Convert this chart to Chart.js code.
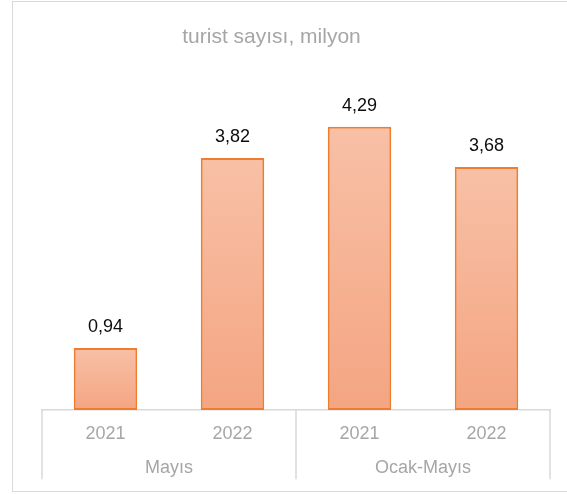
<!DOCTYPE html>
<html>
<head>
<meta charset="utf-8">
<script src="https://cdn.jsdelivr.net/npm/chart.js@4"></script>
<style>
  body { margin: 0; background: #fff; }
  #frame { position: absolute; left: 12px; top: 1px; width: 600px; height: 491px; border: 1px solid #d9d9d9; box-sizing: border-box; }
  #chart { position: absolute; left: 0; top: 0; }
</style>
</head>
<body>
<div id="frame"></div>
<canvas id="chart" width="567" height="495"></canvas>
<script>
// verileri
const years = ["2021", "2022", "2021", "2022"];
const groups = ["Mayıs", "Ocak-Mayıs"];
const tourists = [0.94, 3.82, 4.29, 3.68];
const titleText = "turist sayısı, milyon";

const FONT = "'Liberation Sans', Arial, sans-serif";

// Başlık (çerçeveye göre ortalanmış)
const titleDraw = {
    id: "titleDraw",
    afterDraw(chart) {
        const ctx = chart.ctx;
        ctx.save();
        ctx.font = "21px " + FONT;
        ctx.fillStyle = "#a6a6a6";
        ctx.textAlign = "center";
        ctx.textBaseline = "alphabetic";
        ctx.fillText(titleText, 271.5, 43);
        ctx.restore();
    }
};

// Sütunların üstüne değerleri yazar
const valueLabels = {
    id: "valueLabels",
    afterDatasetsDraw(chart) {
        const ctx = chart.ctx;
        ctx.save();
        ctx.font = "18px " + FONT;
        ctx.fillStyle = "#0d0d0d";
        ctx.textAlign = "center";
        ctx.textBaseline = "middle";
        chart.getDatasetMeta(0).data.forEach((bar, i) => {
            let txt = tourists[i].toFixed(2).replace(".", ",");
            ctx.fillText(txt, bar.x, bar.y - 21);
        });
        ctx.restore();
    }
};

// Gruplar arasındaki dikey çizgiler
const groupLines = {
    id: "groupLines",
    afterDraw(chart) {
        const x = chart.scales.x;
        const x2 = chart.scales.x2;
        const ctx = chart.ctx;
        let lines = [chart.chartArea.left,
            (x.getPixelForValue(1) + x.getPixelForValue(2)) / 2,
            chart.chartArea.right];
        ctx.save();
        ctx.strokeStyle = "#d9d9d9";
        ctx.lineWidth = 1.5;
        lines.forEach(px => {
            ctx.beginPath();
            ctx.moveTo(px, chart.chartArea.bottom);
            ctx.lineTo(px, x2.bottom);
            ctx.stroke();
        });
        ctx.restore();
    }
};

function barGradient(context) {
    const chart = context.chart;
    if (!chart.chartArea || context.raw === undefined) return "#f5ad8c";
    const y = chart.scales.y;
    const top = y.getPixelForValue(context.raw);
    const base = y.getPixelForValue(0);
    const g = chart.ctx.createLinearGradient(0, top, 0, base);
    g.addColorStop(0, "#f8c0a6");
    g.addColorStop(1, "#f4a582");
    return g;
}

new Chart(document.getElementById("chart"), {
    type: "bar",
    data: {
        labels: years,
        datasets: [{
            data: tourists,
            backgroundColor: barGradient,
            borderColor: "#ed7d31",
            borderWidth: 2,
            borderSkipped: false,
            barPercentage: 0.5,
            categoryPercentage: 1
        }]
    },
    options: {
        responsive: false,
        animation: false,
        layout: { padding: { left: 42, right: 17, top: 80, bottom: 15.8 } },
        plugins: {
            legend: { display: false },
            tooltip: { enabled: false },
            title: { display: false }
        },
        scales: {
            y: { display: false, min: 0, max: 5 },
            x: {
                grid: { display: false, drawTicks: false },
                border: { display: true, color: "#d9d9d9", width: 1.5 },
                ticks: { color: "#a6a6a6", padding: 13, font: { family: FONT, size: 18 } }
            },
            x2: {
                type: "category",
                position: "bottom",
                labels: groups,
                offset: true,
                grid: { display: false, drawTicks: false },
                border: { display: false },
                ticks: { color: "#a6a6a6", padding: 0, font: { family: FONT, size: 18 } }
            }
        }
    },
    plugins: [valueLabels, groupLines, titleDraw]
});
</script>
</body>
</html>
